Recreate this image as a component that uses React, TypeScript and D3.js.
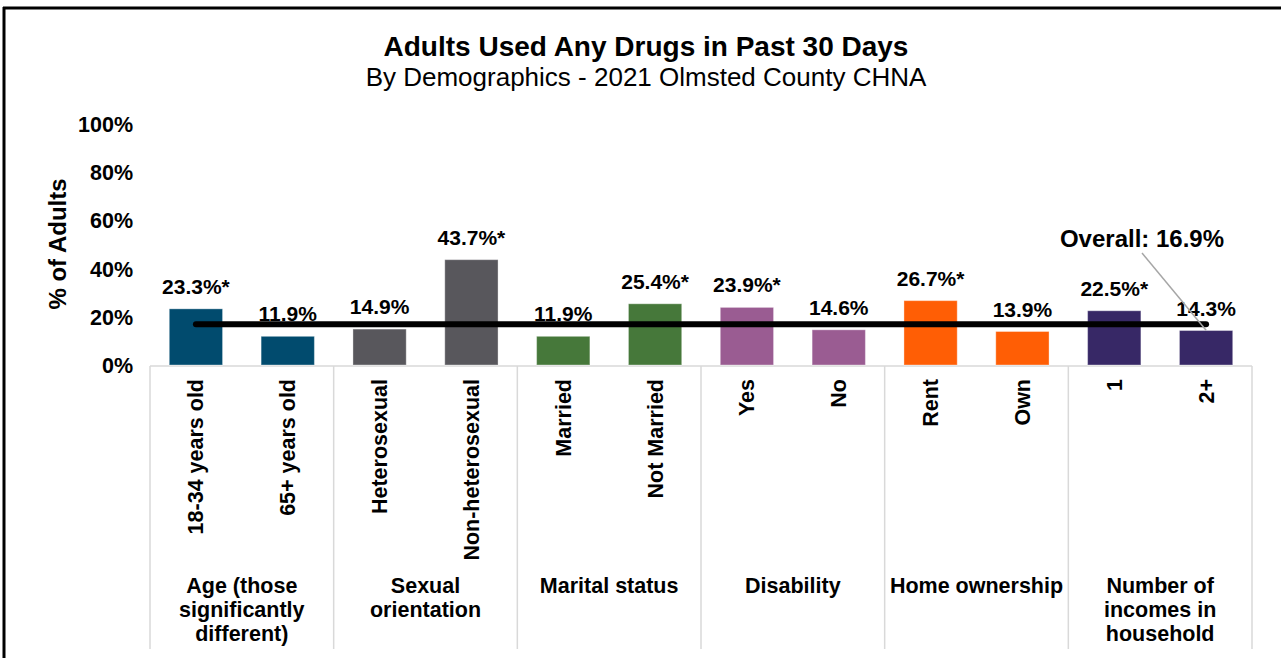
import React from "react";
import * as d3 from "d3";

const categories = ["18-34 years old", "65+ years old", "Heterosexual", "Non-heterosexual", "Married", "Not Married", "Yes", "No", "Rent", "Own", "1", "2+"];
const values = [23.3, 11.9, 14.9, 43.7, 11.9, 25.4, 23.9, 14.6, 26.7, 13.9, 22.5, 14.3];
const significant = [true, false, false, true, false, true, true, false, true, false, true, false];
const groupOf = [0, 0, 1, 1, 2, 2, 3, 3, 4, 4, 5, 5];
const groups = [
  ["Age (those", "significantly", "different)"],
  ["Sexual", "orientation"],
  ["Marital status"],
  ["Disability"],
  ["Home ownership"],
  ["Number of", "incomes in", "household"],
];
const groupColors = ["#014B6E", "#58575C", "#46783A", "#9A5C92", "#FF5E05", "#372866"];
const overall = 16.9;
const yTicks = [0, 20, 40, 60, 80, 100];

const FONT = "'Liberation Sans', Arial, sans-serif";

export default function App() {
  const W = 1281, H = 658;
  const x0 = 150, x1 = 1252, yBase = 365, yTop = 124;
  const y = d3.scaleLinear().domain([0, 100]).range([yBase, yTop]);
  const x = d3.scaleBand<string>().domain(categories).range([x0, x1]).paddingInner(0.42).paddingOuter(0.21);
  const gx = d3.scaleBand<number>().domain(groups.map((_, i) => i)).range([x0, x1]);
  const cx = (c: string) => (x(c) as number) + x.bandwidth() / 2;
  const firstC = cx(categories[0]);
  const lastC = cx(categories[categories.length - 1]);
  const yo = y(overall);

  return (
    <div style={{ position: "fixed", left: 0, top: 0 }}>
      <svg width={W} height={H} style={{ display: "block", background: "#fff" }}>
        {/* frame */}
        <line x1={3} x2={W} y1={8} y2={8} stroke="#000" strokeWidth={3} />
        <line x1={4} x2={4} y1={7} y2={H} stroke="#000" strokeWidth={3} />

        {/* titles */}
        <text x={646} y={56} textAnchor="middle" fontFamily={FONT} fontWeight="bold" fontSize={28} fill="#000">
          Adults Used Any Drugs in Past 30 Days
        </text>
        <text x={646} y={86} textAnchor="middle" fontFamily={FONT} fontSize={26} fill="#000">
          By Demographics - 2021 Olmsted County CHNA
        </text>

        {/* y axis title */}
        <text transform={`translate(66,244) rotate(-90)`} textAnchor="middle" fontFamily={FONT} fontWeight="bold" fontSize={24} fill="#000">
          % of Adults
        </text>
        {/* y ticks */}
        {yTicks.map((t) => (
          <text key={t} x={133} y={y(t) + 8} textAnchor="end" fontFamily={FONT} fontWeight="bold" fontSize={21.5} fill="#000">
            {t}%
          </text>
        ))}

        {/* axis grid lines */}
        <line x1={x0} x2={x1} y1={yBase + 1} y2={yBase + 1} stroke="#D9D9D9" strokeWidth={1.5} />
        {d3.range(groups.length + 1).map((i) => {
          const gxPos = i < groups.length ? (gx(i) as number) : x1;
          return <line key={i} x1={gxPos} x2={gxPos} y1={yBase + 1} y2={649} stroke="#D9D9D9" strokeWidth={1.5} />;
        })}

        {/* bars */}
        {categories.map((c, i) => (
          <rect key={c} x={x(c)} y={y(values[i])} width={x.bandwidth()} height={yBase - y(values[i])}
            fill={groupColors[groupOf[i]]} stroke="#ffffff" strokeOpacity={0.35} strokeWidth={1} />
        ))}

        {/* overall line */}
        <line x1={firstC} x2={lastC} y1={yo} y2={yo} stroke="#000" strokeWidth={6} strokeLinecap="round" />

        {/* data labels */}
        {categories.map((c, i) => (
          <text key={c} x={cx(c)} y={y(values[i]) - 15} textAnchor="middle" fontFamily={FONT} fontWeight="bold" fontSize={21} fill="#000">
            {values[i].toFixed(1)}%{significant[i] ? "*" : ""}
          </text>
        ))}

        {/* overall label with leader */}
        <line x1={1142} y1={253} x2={lastC} y2={yo + 6} stroke="#A6A6A6" strokeWidth={1.5} />
        <text x={1142} y={247} textAnchor="middle" fontFamily={FONT} fontWeight="bold" fontSize={24} fill="#000">
          Overall: {overall.toFixed(1)}%
        </text>

        {/* category labels */}
        {categories.map((c) => (
          <text key={c} transform={`translate(${cx(c) + 7.5},379) rotate(-90)`} textAnchor="end" fontFamily={FONT} fontWeight="bold" fontSize={21.5} fill="#000">
            {c}
          </text>
        ))}

        {/* group labels */}
        {groups.map((lines, gi) => (
          <text key={gi} textAnchor="middle" fontFamily={FONT} fontWeight="bold" fontSize={21.5} fill="#000">
            {lines.map((l, li) => (
              <tspan key={li} x={(gx(gi) as number) + gx.bandwidth() / 2} y={593 + li * 24}>{l}</tspan>
            ))}
          </text>
        ))}
      </svg>
    </div>
  );
}
